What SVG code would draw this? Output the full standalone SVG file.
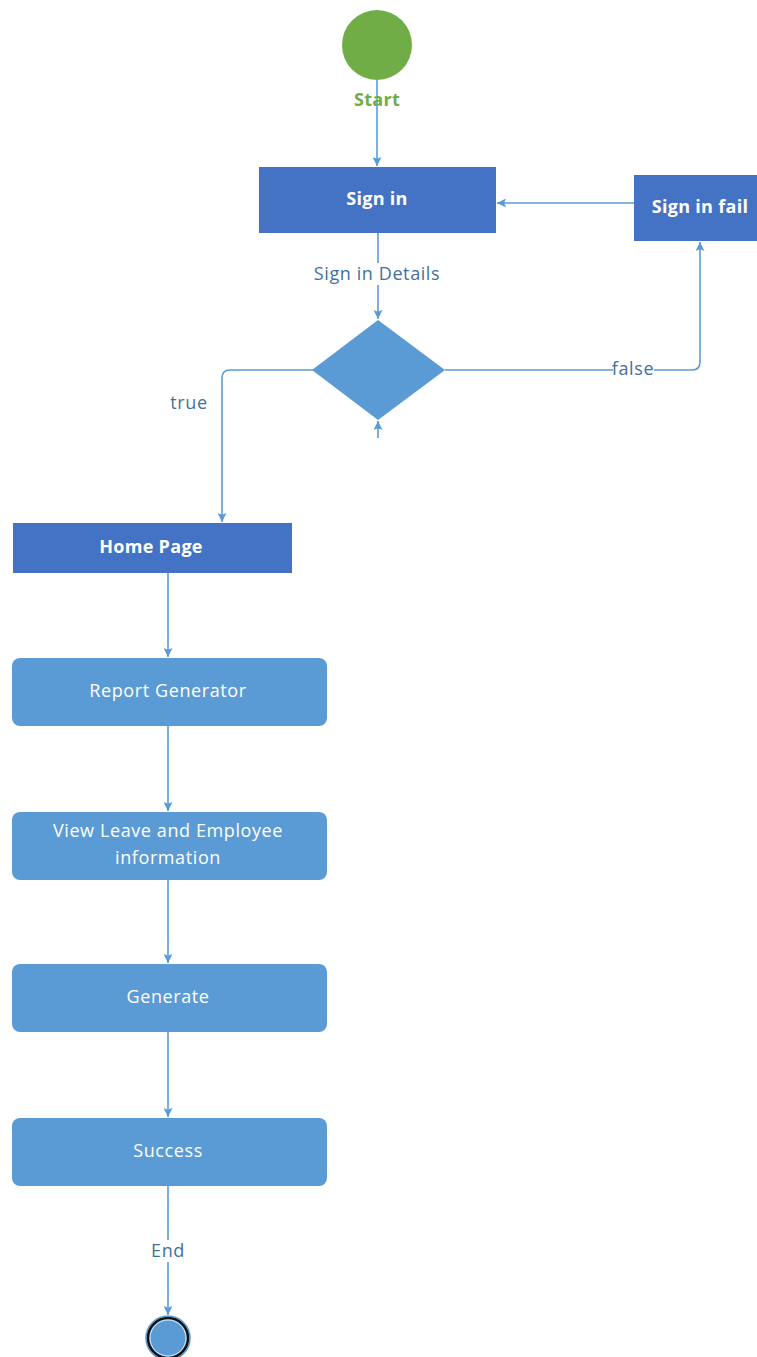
<svg xmlns="http://www.w3.org/2000/svg" width="757" height="1357" viewBox="0 0 757 1357">
<style>
.conn{fill:none;stroke:#5B9BD5;stroke-width:1.6}
.dark{fill:#4472C4}
.light{fill:#5B9BD5}
.tb{font-family:"Open Sans","Noto Sans",sans-serif;font-weight:bold;font-size:18px;letter-spacing:0.3px;fill:#fff;text-anchor:middle;dominant-baseline:central}
.tr{font-family:"Open Sans","Noto Sans",sans-serif;font-size:18px;letter-spacing:0.6px;fill:#fff;text-anchor:middle;dominant-baseline:central}
.lbl{font-family:"Open Sans","Noto Sans",sans-serif;font-size:18px;letter-spacing:0.6px;fill:#41719C;text-anchor:middle;dominant-baseline:central}
</style>
<defs>
<marker id="ah" viewBox="0 0 10 10" refX="10" refY="5" markerWidth="9" markerHeight="9" markerUnits="userSpaceOnUse" orient="auto">
<path d="M0,0 L10,5 L0,10 L2,5 z" fill="#5B9BD5"/>
</marker>
</defs>
<rect width="757" height="1357" fill="#fff"/>
<g id="connectors">
<line class="conn" x1="377" y1="80" x2="377" y2="166" marker-end="url(#ah)"/>
<line class="conn" x1="634" y1="203" x2="497" y2="203" marker-end="url(#ah)"/>
<line class="conn" x1="378" y1="233" x2="378" y2="319" marker-end="url(#ah)"/>
<path class="conn" d="M313,370 H230 Q222,370 222,378 V522" marker-end="url(#ah)"/>
<path class="conn" d="M445,370 H692 Q700,370 700,362 V242" marker-end="url(#ah)"/>
<line class="conn" x1="378" y1="438" x2="378" y2="421" marker-end="url(#ah)"/>
<line class="conn" x1="168" y1="573" x2="168" y2="657" marker-end="url(#ah)"/>
<line class="conn" x1="168" y1="726" x2="168" y2="811" marker-end="url(#ah)"/>
<line class="conn" x1="168" y1="880" x2="168" y2="963" marker-end="url(#ah)"/>
<line class="conn" x1="168" y1="1032" x2="168" y2="1117" marker-end="url(#ah)"/>
<line class="conn" x1="168" y1="1186" x2="168" y2="1315" marker-end="url(#ah)"/>
<rect x="310" y="263" width="134" height="22" fill="#fff"/>
<text class="lbl" x="377" y="273">Sign in Details</text>
<text class="lbl" x="189" y="402">true</text>
<rect x="613" y="360" width="41" height="19" fill="#fff"/>
<text class="lbl" x="633" y="368">false</text>
<rect x="148" y="1240" width="40" height="22" fill="#fff"/>
<text class="lbl" x="168" y="1250">End</text>
</g>
<g id="start">
<circle cx="377" cy="45" r="35" fill="#70AD47"/>
<text x="377" y="99" font-family="'Open Sans','Noto Sans',sans-serif" font-weight="bold" font-size="18" letter-spacing="0.3" fill="#70AD47" text-anchor="middle" dominant-baseline="central">Start</text>
</g>
<g id="signin">
<rect class="dark" x="259" y="167" width="237" height="66"/>
<text class="tb" x="377" y="198">Sign in</text>
</g>
<g id="signinfail">
<rect class="dark" x="634" y="175" width="123" height="66"/>
<text class="tb" x="700" y="206">Sign in fail</text>
</g>
<g id="decision">
<polygon class="light" points="378,320 445,370 378,420 312,370"/>
</g>
<g id="homepage">
<rect class="dark" x="13" y="523" width="279" height="50"/>
<text class="tb" x="151" y="546">Home Page</text>
</g>
<g id="report">
<rect class="light" x="12" y="658" width="315" height="68" rx="8"/>
<text class="tr" x="168" y="690">Report Generator</text>
</g>
<g id="view">
<rect class="light" x="12" y="812" width="315" height="68" rx="8"/>
<text class="tr" x="168" y="830">View Leave and Employee</text>
<text class="tr" x="168" y="857">information</text>
</g>
<g id="generate">
<rect class="light" x="12" y="964" width="315" height="68" rx="8"/>
<text class="tr" x="168" y="996">Generate</text>
</g>
<g id="success">
<rect class="light" x="12" y="1118" width="315" height="68" rx="8"/>
<text class="tr" x="168" y="1150">Success</text>
</g>
<g id="end">
<circle cx="168" cy="1338" r="22" fill="none" stroke="#5B9BD5" stroke-width="1.5"/>
<circle cx="168" cy="1338" r="20" fill="#5B9BD5" stroke="#111" stroke-width="2.5"/>
<circle cx="168" cy="1338" r="18" fill="none" stroke="#fff" stroke-width="0.8"/>
</g>
</svg>
